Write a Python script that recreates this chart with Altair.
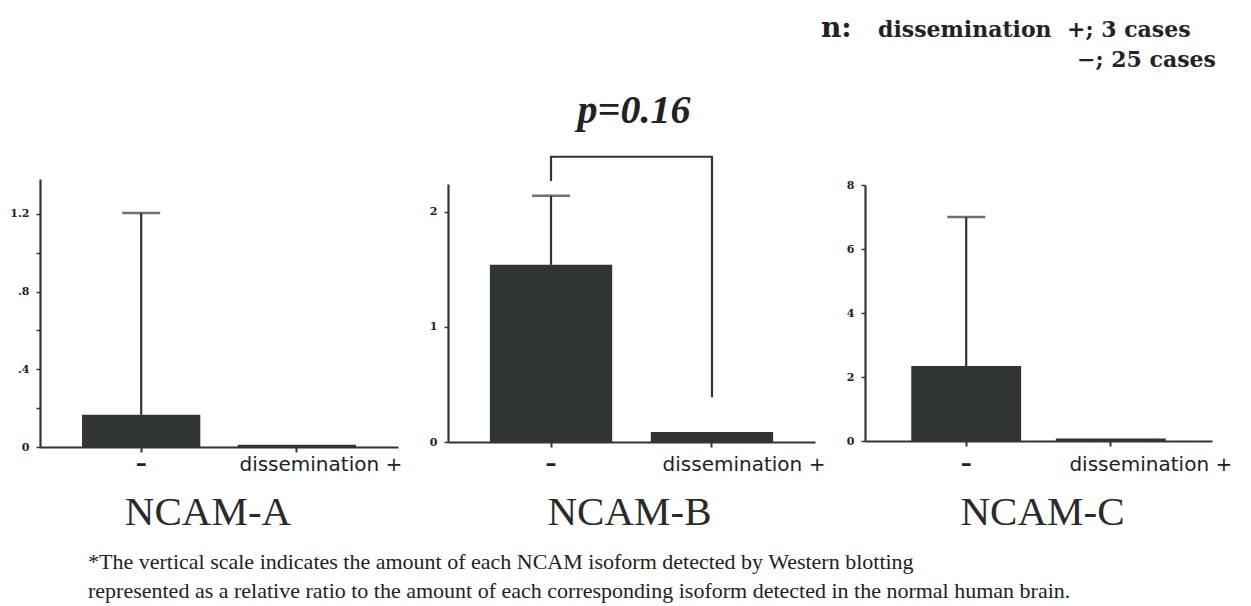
import altair as alt
import pandas as pd

# ---------------- data ----------------
groups = ["–", "+"]
x_labels = ["–", "dissemination +"]

a_mean = [0.166, 0.012]
a_upper = [1.205, None]
b_mean = [1.54, 0.087]
b_upper = [2.14, None]
c_mean = [2.34, 0.08]
c_upper = [7.0, None]

a_ticks = [0, 0.4, 0.8, 1.2]
a_tick_labels = ["0", ".4", ".8", "1.2"]
a_minor = [0.2, 0.6, 1.0]
b_ticks = [0, 1, 2]
b_tick_labels = ["0", "1", "2"]
b_minor = []
c_ticks = [0, 2, 4, 6, 8]
c_tick_labels = ["0", "2", "4", "6", "8"]
c_minor = [1, 3, 5, 7]

panel_titles = ["NCAM-A", "NCAM-B", "NCAM-C"]

bracket_group = ["–", "–", "+", "+"]
bracket_value = [2.27, 2.48, 2.48, 0.39]
p_text = "p=0.16"

header_n = "n:"
header_line1 = ["dissemination", "+; 3 cases"]
header_line2 = "−; 25 cases"
footnote = [
    "*The vertical scale indicates the amount of each NCAM isoform detected by Western blotting",
    "represented as a relative ratio to the amount of each corresponding isoform detected in the normal human brain.",
]

# ---------------- style ----------------
DARK = "#303432"
TEXT = "#222222"
W_H = 1251
H_H = 606


def txt(s, **kw):
    return alt.Chart(pd.DataFrame({"t": [s]})).mark_text(**kw)


def make_panel(means, uppers, ticks, tick_labels, minor, ymax, width, height,
               pout, label_dx, title, title_dx, ox, oy):
    df = pd.DataFrame({"group": groups, "mean": means, "upper": uppers, "label": x_labels})
    all_ticks = sorted(ticks + minor)
    expr = " : ".join(f"datum.value == {v} ? '{l}'" for v, l in zip(ticks, tick_labels)) + " : ''"
    xscale = alt.Scale(paddingInner=0.24, paddingOuter=pout)
    xenc = alt.X("group:N", sort=groups, scale=xscale,
                 axis=alt.Axis(title=None, labels=False, ticks=True, tickSize=5, tickWidth=2,
                               tickColor=DARK, domainColor=DARK, domainWidth=2.2))
    xplain = alt.X("group:N", sort=groups)
    yenc = alt.Y("mean:Q", scale=alt.Scale(domain=[0, ymax], nice=False, zero=True),
                 axis=alt.Axis(title=None, values=all_ticks, labelExpr=expr, grid=False,
                               tickSize=4, tickWidth=1.5, tickColor=DARK,
                               domainColor=DARK, domainWidth=2.2,
                               labelFont="DejaVu Serif", labelFontWeight="bold",
                               labelFontSize=11, labelColor=TEXT, labelPadding=7))
    base = alt.Chart(df)
    bars = base.mark_bar(color=DARK).encode(x=xenc, y=yenc)
    err = base.transform_filter("isValid(datum.upper)")
    rule = err.mark_rule(color=DARK, strokeWidth=2.2).encode(x=xplain, y="mean:Q", y2="upper:Q")
    cap = err.mark_tick(color=DARK, size=38, thickness=2.5).encode(x=xplain, y="upper:Q")
    lab_y = 471 - oy
    minus_lab = base.transform_filter(f"datum.group == '{groups[0]}'").mark_text(
        font="DejaVu Sans", fontSize=22, fontWeight="bold", baseline="alphabetic", color=TEXT
    ).encode(x=xplain, y=alt.value(lab_y), text="label:N")
    plus_lab = base.transform_filter(f"datum.group == '{groups[1]}'").mark_text(
        font="DejaVu Sans", fontSize=20, baseline="alphabetic", color=TEXT, dx=label_dx
    ).encode(x=xplain, y=alt.value(lab_y), text="label:N")
    ttl = txt(title, font="Liberation Serif", fontSize=41, color="#2a2a2a",
              baseline="alphabetic", align="center", dx=title_dx).encode(
        x=alt.value(width / 2), y=alt.value(525 - oy), text="t:N")
    return [bars, rule, cap, minus_lab, plus_lab, ttl]


# panel origins (page coordinates of plot-area top-left)
A_OX, A_OY, A_W, A_H = 40, 179, 358, 268
B_OX, B_OY, B_W, B_H = 448, 184, 367, 258
C_OX, C_OY, C_W, C_H = 865, 185, 347, 256

layers_a = make_panel(a_mean, a_upper, a_ticks, a_tick_labels, a_minor, 1.38, A_W, A_H,
                      0.27, 24, panel_titles[0], -11, A_OX, A_OY)
layers_b = make_panel(b_mean, b_upper, b_ticks, b_tick_labels, b_minor, 2.243, B_W, B_H,
                      0.26, 32, panel_titles[1], -2, B_OX, B_OY)
layers_c = make_panel(c_mean, c_upper, c_ticks, c_tick_labels, c_minor, 8, C_W, C_H,
                      0.32, 40, panel_titles[2], 4, C_OX, C_OY)

# page-frame (invisible) so that the whole figure keeps its page coordinates
frame = alt.Chart(pd.DataFrame({"k": [0]})).mark_rule(opacity=0, strokeWidth=0).encode(
    x=alt.value(-A_OX), y=alt.value(-A_OY),
    x2=alt.value(W_H - A_OX - 1), y2=alt.value(H_H - A_OY - 1))

hdr = [
    txt(header_n, font="DejaVu Serif", fontWeight="bold", fontSize=28, color=TEXT,
        align="left", baseline="alphabetic").encode(x=alt.value(821 - A_OX), y=alt.value(37 - A_OY), text="t:N"),
    txt(header_line1[0], font="DejaVu Serif", fontWeight="bold", fontSize=22, color=TEXT,
        align="left", baseline="alphabetic").encode(x=alt.value(878 - A_OX), y=alt.value(37 - A_OY), text="t:N"),
    txt(header_line1[1], font="DejaVu Serif", fontWeight="bold", fontSize=22, color=TEXT,
        align="left", baseline="alphabetic").encode(x=alt.value(1067 - A_OX), y=alt.value(37 - A_OY), text="t:N"),
    txt(header_line2, font="DejaVu Serif", fontWeight="bold", fontSize=22, color=TEXT,
        align="left", baseline="alphabetic").encode(x=alt.value(1077 - A_OX), y=alt.value(67 - A_OY), text="t:N"),
]
foot = [
    txt(footnote[0], font="Liberation Serif", fontSize=22, color=TEXT,
        align="left", baseline="alphabetic").encode(x=alt.value(88 - A_OX), y=alt.value(569 - A_OY), text="t:N"),
    txt(footnote[1], font="Liberation Serif", fontSize=22, color=TEXT,
        align="left", baseline="alphabetic").encode(x=alt.value(88 - A_OX), y=alt.value(598 - A_OY), text="t:N"),
]

bracket_df = pd.DataFrame({"group": bracket_group, "mean": bracket_value, "order": [0, 1, 2, 3]})
bracket = alt.Chart(bracket_df).mark_line(color=DARK, strokeWidth=2.2).encode(
    x=alt.X("group:N", sort=groups), y="mean:Q", order="order:Q")
ptxt = txt(p_text, font="Liberation Serif", fontStyle="italic", fontWeight="bold", fontSize=40,
           color=TEXT, align="center", baseline="alphabetic").encode(
    x=alt.value(634 - B_OX), y=alt.value(123 - B_OY), text="t:N")

panel_a = alt.layer(*layers_a, *hdr, *foot, frame).properties(width=A_W, height=A_H)
panel_b = alt.layer(*layers_b, bracket, ptxt).properties(width=B_W, height=B_H)
panel_c = alt.layer(*layers_c).properties(width=C_W, height=C_H)

chart = alt.hconcat(panel_a, panel_b, panel_c, spacing=50, bounds="flush", center=True).properties(
    padding=0
).configure_view(stroke=None)

chart.save("out.html", embed_options={"renderer": "svg", "actions": False})
